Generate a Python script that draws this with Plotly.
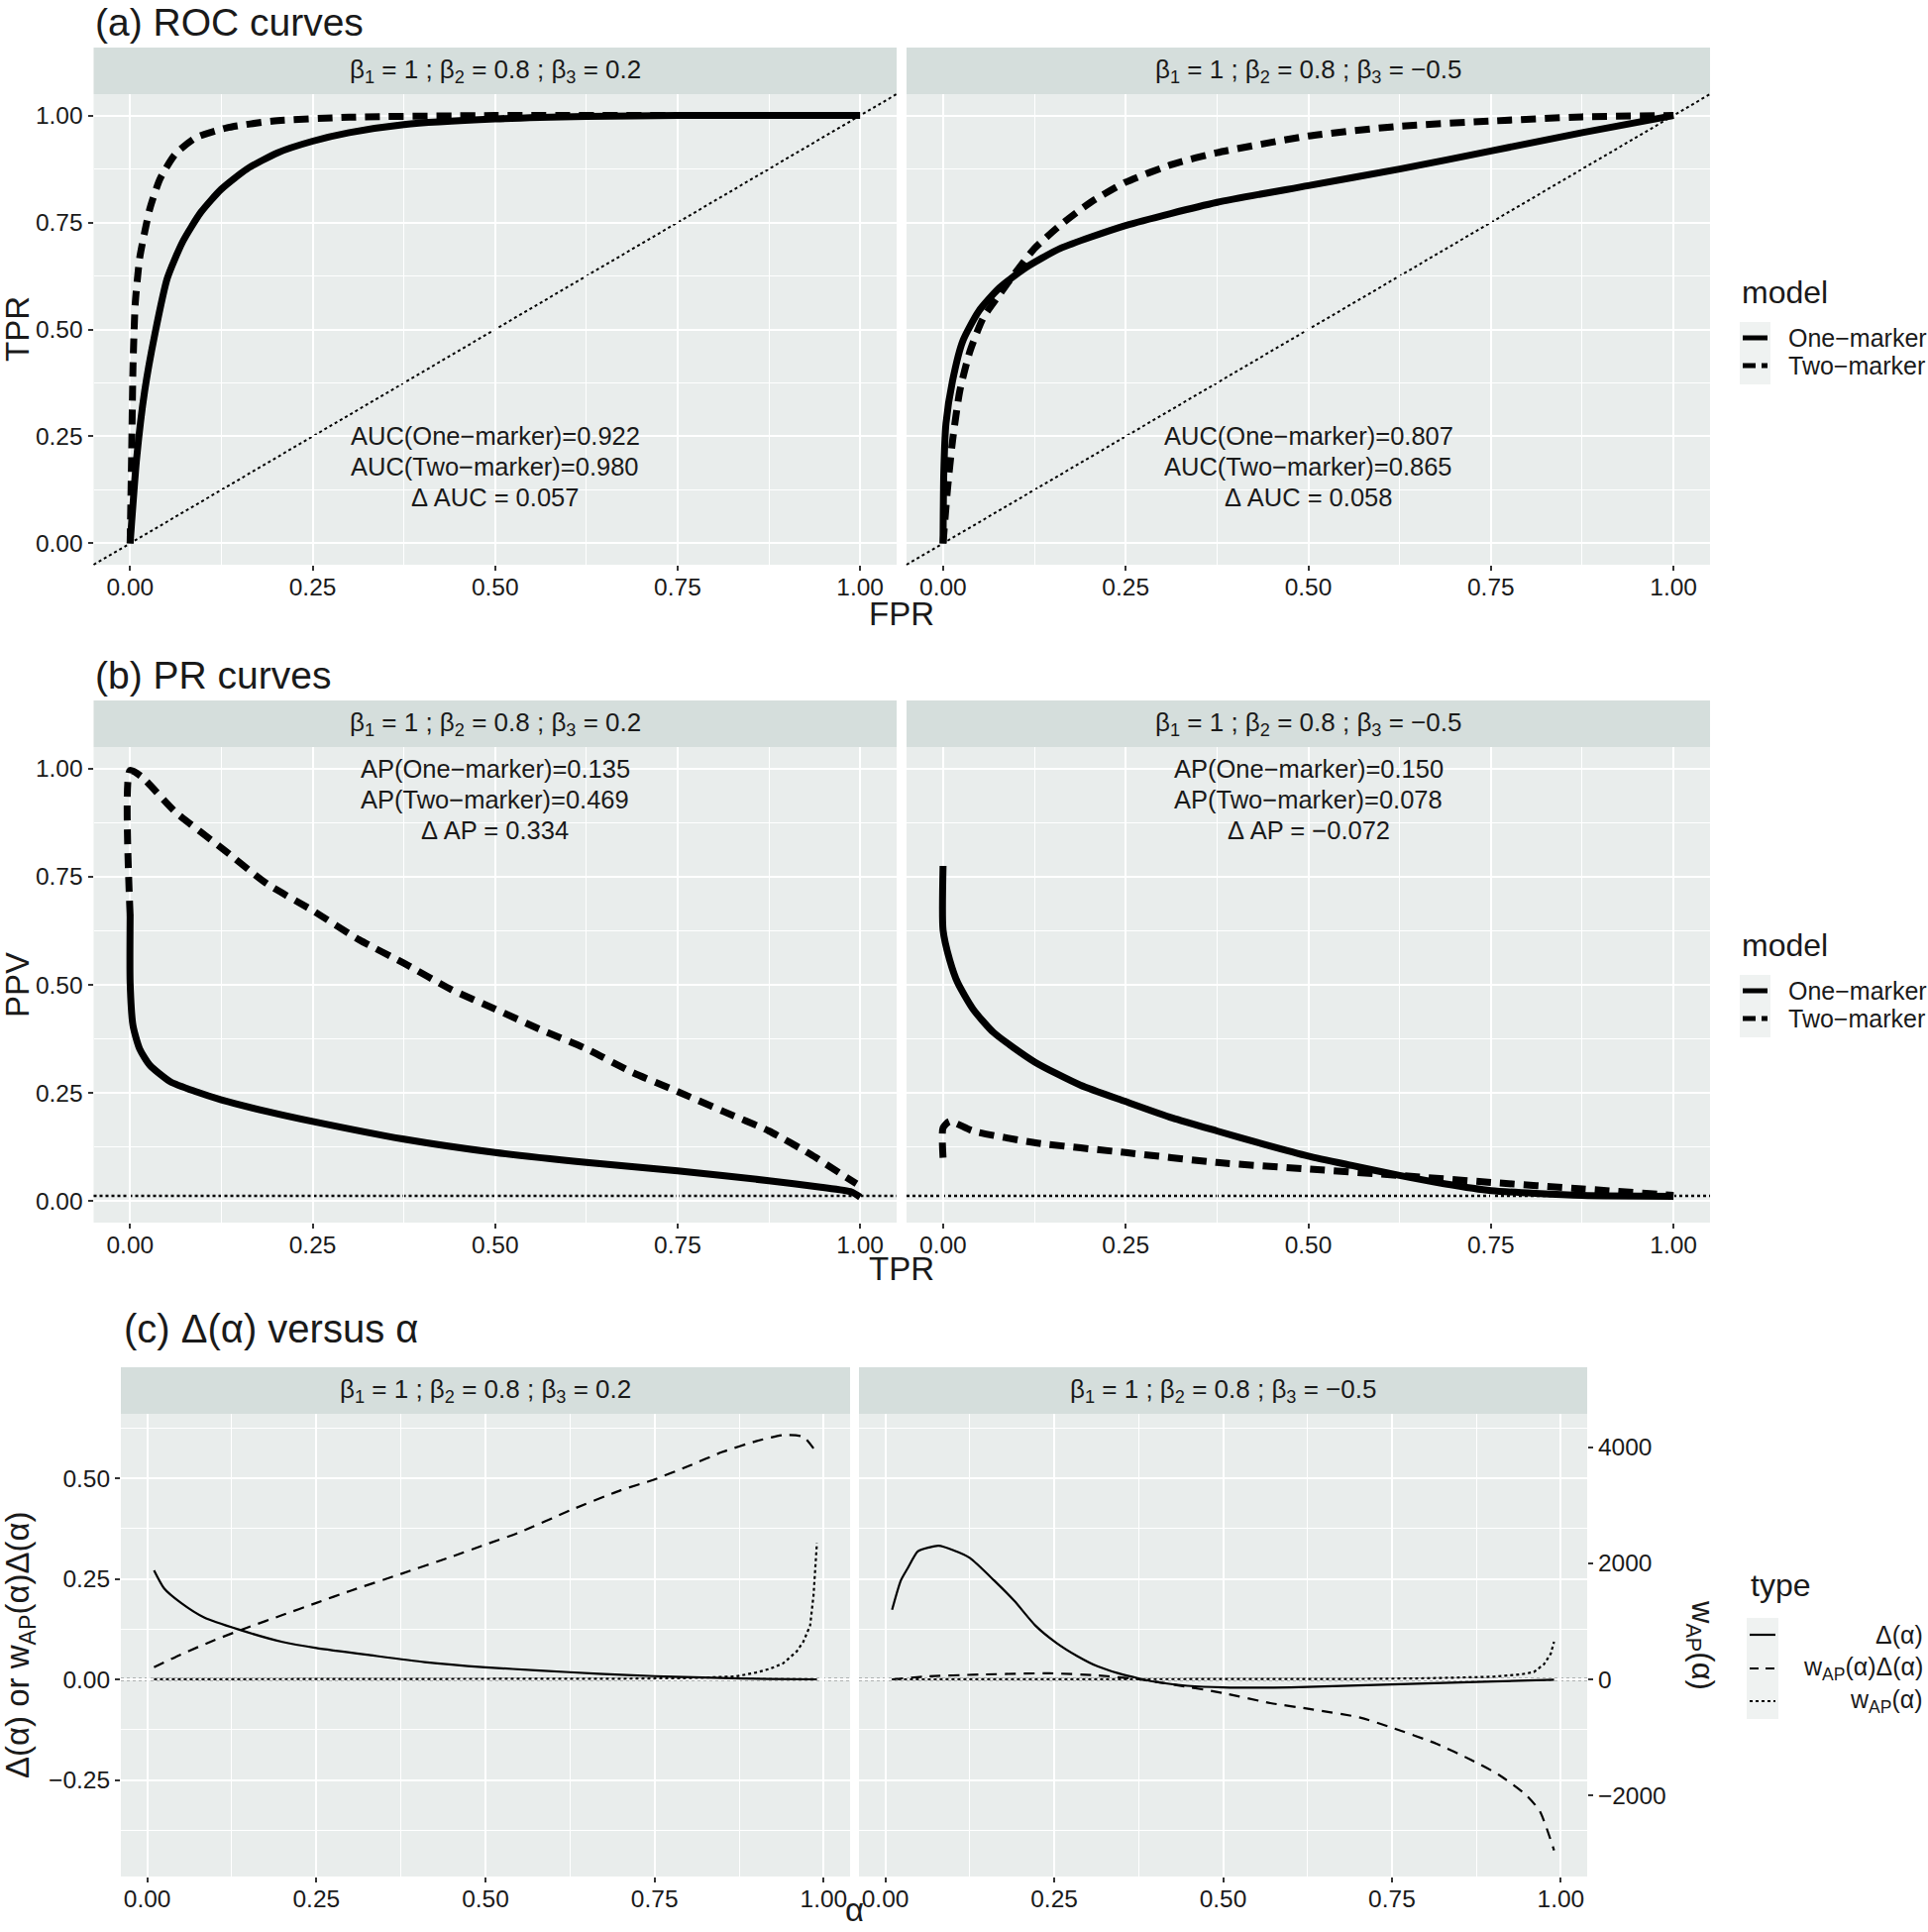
import plotly.graph_objects as go

# ---------------- data ----------------
# (a) ROC curves
roc1_one_fpr = [0, 0.009, 0.02, 0.034, 0.051, 0.072, 0.097, 0.125, 0.16, 0.202, 0.25, 0.30, 0.375, 0.5, 0.625, 0.75, 1.0]
roc1_one_tpr = [0, 0.20, 0.357, 0.49, 0.62, 0.705, 0.774, 0.828, 0.875, 0.913, 0.94, 0.96, 0.979, 0.992, 0.998, 1.0, 1.0]
roc1_two_fpr = [0, 0.002, 0.004, 0.007, 0.013, 0.02, 0.027, 0.041, 0.062, 0.09, 0.132, 0.195, 0.30, 0.5, 1.0]
roc1_two_tpr = [0, 0.2, 0.42, 0.56, 0.666, 0.728, 0.782, 0.852, 0.91, 0.948, 0.971, 0.987, 0.996, 1.0, 1.0]
roc2_one_fpr = [0, 0.001, 0.004, 0.013, 0.027, 0.049, 0.077, 0.112, 0.16, 0.25, 0.375, 0.5, 0.625, 0.75, 0.875, 1.0]
roc2_one_tpr = [0, 0.164, 0.28, 0.38, 0.473, 0.543, 0.597, 0.643, 0.689, 0.743, 0.797, 0.836, 0.875, 0.917, 0.96, 1.0]
roc2_two_fpr = [0, 0.006, 0.013, 0.023, 0.037, 0.055, 0.077, 0.097, 0.125, 0.16, 0.202, 0.25, 0.314, 0.375, 0.5, 0.625, 0.75, 0.875, 1.0]
roc2_two_tpr = [0, 0.125, 0.24, 0.357, 0.45, 0.527, 0.581, 0.628, 0.689, 0.743, 0.797, 0.844, 0.886, 0.913, 0.952, 0.975, 0.987, 0.997, 1.0]

# (b) PR curves
pr1_one_tpr = [0, 0, 0.004, 0.013, 0.027, 0.055, 0.09, 0.125, 0.188, 0.25, 0.375, 0.5, 0.625, 0.75, 0.875, 0.946, 0.988, 1.0]
pr1_one_ppv = [0.661, 0.505, 0.405, 0.352, 0.314, 0.276, 0.253, 0.234, 0.207, 0.184, 0.143, 0.112, 0.089, 0.07, 0.047, 0.032, 0.021, 0.009]
pr1_two_tpr = [0, 0, 0.016, 0.062, 0.125, 0.188, 0.25, 0.314, 0.375, 0.44, 0.5, 0.56, 0.625, 0.686, 0.75, 0.813, 0.875, 0.932, 0.974, 0.995]
pr1_two_ppv = [0.66, 0.996, 0.981, 0.90, 0.817, 0.733, 0.672, 0.604, 0.55, 0.489, 0.444, 0.398, 0.352, 0.299, 0.253, 0.207, 0.162, 0.108, 0.0625, 0.04]
pr2_one_tpr = [0, 0, 0.009, 0.02, 0.041, 0.069, 0.125, 0.188, 0.25, 0.314, 0.375, 0.44, 0.5, 0.56, 0.625, 0.686, 0.75, 0.875, 1.0]
pr2_one_ppv = [0.775, 0.627, 0.558, 0.505, 0.444, 0.39, 0.322, 0.268, 0.23, 0.192, 0.162, 0.131, 0.104, 0.082, 0.059, 0.04, 0.024, 0.013, 0.011]
pr2_two_tpr = [0, 0, 0.009, 0.041, 0.125, 0.25, 0.375, 0.5, 0.625, 0.75, 0.875, 1.0]
pr2_two_ppv = [0.10, 0.169, 0.184, 0.162, 0.135, 0.112, 0.089, 0.074, 0.059, 0.043, 0.028, 0.013]
PREVALENCE = 0.012

# (c) Delta(alpha) versus alpha
c1_delta_a = [0.01, 0.025, 0.05, 0.084, 0.135, 0.2, 0.25, 0.33, 0.41, 0.5, 0.58, 0.667, 0.75, 0.835, 0.92, 0.99]
c1_delta_v = [0.271, 0.226, 0.19, 0.154, 0.124, 0.093, 0.078, 0.06, 0.043, 0.030, 0.022, 0.014, 0.008, 0.004, 0.001, 0.0]
c1_wdelta_a = [0.01, 0.05, 0.1, 0.15, 0.2, 0.25, 0.3, 0.375, 0.45, 0.5, 0.55, 0.625, 0.7, 0.75, 0.8, 0.85, 0.9, 0.94, 0.97, 0.99]
c1_wdelta_v = [0.030, 0.062, 0.098, 0.13, 0.16, 0.19, 0.22, 0.262, 0.305, 0.335, 0.365, 0.42, 0.47, 0.497, 0.53, 0.565, 0.592, 0.607, 0.603, 0.562]
c1_w_a = [0.01, 0.2, 0.4, 0.6, 0.7, 0.8, 0.85, 0.87, 0.9, 0.92, 0.94, 0.96, 0.97, 0.98, 0.985, 0.99]
c1_w_v = [2, 3, 5, 8, 12, 22, 38, 50, 118, 180, 275, 480, 650, 930, 1450, 2350]
c2_delta_a = [0.01, 0.023, 0.033, 0.048, 0.065, 0.079, 0.099, 0.125, 0.161, 0.191, 0.222, 0.253, 0.284, 0.314, 0.345, 0.376, 0.406, 0.447, 0.5, 0.6, 0.7, 0.8, 0.9, 0.99]
c2_delta_v = [0.173, 0.246, 0.276, 0.318, 0.328, 0.332, 0.322, 0.302, 0.246, 0.195, 0.134, 0.091, 0.058, 0.0325, 0.015, 0.002, -0.008, -0.016, -0.020, -0.020, -0.015, -0.010, -0.005, -0.001]
c2_wdelta_a = [0.01, 0.058, 0.14, 0.243, 0.314, 0.376, 0.427, 0.5, 0.57, 0.63, 0.703, 0.75, 0.816, 0.867, 0.908, 0.949, 0.969, 0.99]
c2_wdelta_v = [0.0, 0.007, 0.012, 0.015, 0.010, 0.0, -0.013, -0.034, -0.059, -0.074, -0.095, -0.12, -0.16, -0.20, -0.237, -0.288, -0.328, -0.425]
c2_w_a = [0.01, 0.3, 0.5, 0.7, 0.8, 0.9, 0.94, 0.96, 0.975, 0.985, 0.99]
c2_w_v = [0, 1, 3, 8, 18, 45, 85, 125, 260, 440, 650]

strip_labels = ["β<sub>1</sub> = 1 ; β<sub>2</sub> = 0.8 ; β<sub>3</sub> = 0.2",
                "β<sub>1</sub> = 1 ; β<sub>2</sub> = 0.8 ; β<sub>3</sub> = −0.5"]
auc_text = [["AUC(One−marker)=0.922", "AUC(Two−marker)=0.980", "Δ AUC = 0.057"],
            ["AUC(One−marker)=0.807", "AUC(Two−marker)=0.865", "Δ AUC = 0.058"]]
ap_text = [["AP(One−marker)=0.135", "AP(Two−marker)=0.469", "Δ AP = 0.334"],
           ["AP(One−marker)=0.150", "AP(Two−marker)=0.078", "Δ AP = −0.072"]]
model_labels = ["One−marker", "Two−marker"]
type_labels = ["Δ(α)", "w<sub>AP</sub>(α)Δ(α)", "w<sub>AP</sub>(α)"]

# ---------------- style ----------------
W, H = 1946, 1950
FONT = "Liberation Sans, Arial, Helvetica, sans-serif"
INK = "#1A1A1A"
PANEL_BG = "#E9EDEC"
STRIP_BG = "#D5DEDC"
KEY_BG = "#EFF2F1"
SEC_SCALE = 6930.0
THICK = 7
THIN = 2.2
DASH_THICK = "15px,9px"
DASH_THIN = "11px,8px"
TICK_SIZE = 24.5


def fx(p):
    return p / W


def fy(p):
    return 1 - p / H


XL_AB = [fx(94.5), fx(905)]
XR_AB = [fx(915), fx(1726)]
Y_A = [fy(570), fy(95)]
Y_B = [fy(1234), fy(754)]
XL_C = [fx(122), fx(858)]
XR_C = [fx(867), fx(1602)]
Y_C = [fy(1894), fy(1427)]

R_AB = [-0.05, 1.05]
R_CX = [-0.039, 1.039]
R_CY = [-0.49, 0.66]
R_CY2 = [R_CY[0] * SEC_SCALE, R_CY[1] * SEC_SCALE]

tickfont = dict(family=FONT, size=TICK_SIZE, color=INK)


def axis(domain, anchor, rng, dtick=0.25, labels=True, grid=True, fmt=".2f", standoff=0):
    return dict(domain=domain, anchor=anchor, range=rng, showgrid=grid, gridcolor="white",
                gridwidth=2.2, tick0=0, dtick=dtick, tickformat=fmt,
                ticks="outside" if labels else "", ticklen=5, tickwidth=2, tickcolor="#333333",
                showticklabels=labels, ticklabelstandoff=standoff,
                minor=dict(tick0=dtick / 2, dtick=dtick, showgrid=grid, gridcolor="white", gridwidth=1.1, ticks=""),
                zeroline=False, showline=False, tickfont=tickfont, fixedrange=True)


fig = go.Figure()


def line(x, y, xa, ya, dash, width, shape="spline"):
    fig.add_trace(go.Scatter(x=x, y=y, xaxis=xa, yaxis=ya, mode="lines",
                             line=dict(color="black", width=width, dash=dash, shape=shape, smoothing=0.6),
                             showlegend=False, hoverinfo="skip"))


# (a)
line(roc1_one_fpr, roc1_one_tpr, "x", "y", "solid", THICK)
line(roc1_two_fpr, roc1_two_tpr, "x", "y", DASH_THICK, THICK)
line(roc2_one_fpr, roc2_one_tpr, "x2", "y2", "solid", THICK)
line(roc2_two_fpr, roc2_two_tpr, "x2", "y2", DASH_THICK, THICK)
# (b)
line(pr1_one_tpr, pr1_one_ppv, "x3", "y3", "solid", THICK)
line(pr1_two_tpr, pr1_two_ppv, "x3", "y3", DASH_THICK, THICK)
line(pr2_one_tpr, pr2_one_ppv, "x4", "y4", "solid", THICK)
line(pr2_two_tpr, pr2_two_ppv, "x4", "y4", DASH_THICK, THICK)
# (c)
line(c1_delta_a, c1_delta_v, "x5", "y5", "solid", THIN)
line(c1_wdelta_a, c1_wdelta_v, "x5", "y5", DASH_THIN, THIN)
line(c1_w_a, c1_w_v, "x5", "y8", "dot", THIN, "linear")
line(c2_delta_a, c2_delta_v, "x6", "y6", "solid", THIN)
line(c2_wdelta_a, c2_wdelta_v, "x6", "y6", DASH_THIN, THIN)
line(c2_w_a, c2_w_v, "x6", "y7", "dot", THIN, "linear")

layout = dict(
    width=W, height=H, margin=dict(l=0, r=0, t=0, b=0),
    paper_bgcolor="white", plot_bgcolor=PANEL_BG, showlegend=False,
    font=dict(family=FONT, color=INK),
    xaxis=axis(XL_AB, "y", R_AB, standoff=-4), yaxis=axis(Y_A, "x", R_AB),
    xaxis2=axis(XR_AB, "y2", R_AB, standoff=-4), yaxis2=axis(Y_A, "x2", R_AB, labels=False),
    xaxis3=axis(XL_AB, "y3", R_AB, standoff=-4), yaxis3=axis(Y_B, "x3", R_AB),
    xaxis4=axis(XR_AB, "y4", R_AB, standoff=-4), yaxis4=axis(Y_B, "x4", R_AB, labels=False),
    xaxis5=axis(XL_C, "y5", R_CX, standoff=-4), yaxis5=axis(Y_C, "x5", R_CY),
    xaxis6=axis(XR_C, "y6", R_CX, standoff=-4), yaxis6=axis(Y_C, "x6", R_CY, labels=False),
)
y7 = axis(Y_C, "x6", R_CY2, dtick=2000, grid=False, fmt="d")
y7.update(overlaying="y6", side="right")
layout["yaxis7"] = y7
y8 = axis(Y_C, "x5", R_CY2, dtick=2000, grid=False, fmt="d", labels=False)
y8.update(overlaying="y5", visible=False)
layout["yaxis8"] = y8
fig.update_layout(**layout)

shapes = []
annotations = []


def text(x, y, s, size, xanchor="center", yanchor="middle", xref="paper", yref="paper", angle=0):
    annotations.append(dict(x=x, y=y, xref=xref, yref=yref, text=s, showarrow=False,
                            xanchor=xanchor, yanchor=yanchor, textangle=angle,
                            font=dict(family=FONT, size=size, color=INK)))


# strips
strips = [(XL_AB, 48, 95), (XR_AB, 48, 95), (XL_AB, 707, 754), (XR_AB, 707, 754),
          (XL_C, 1380, 1427), (XR_C, 1380, 1427)]
for i, (dom, top, bot) in enumerate(strips):
    shapes.append(dict(type="rect", xref="paper", yref="paper", x0=dom[0], x1=dom[1], y0=fy(bot), y1=fy(top),
                       fillcolor=STRIP_BG, line=dict(width=0), layer="below"))
    text((dom[0] + dom[1]) / 2, fy((top + bot) / 2), strip_labels[i % 2], 26)

# reference lines
for xa, ya in [("x", "y"), ("x2", "y2")]:
    shapes.append(dict(type="line", xref=xa + " domain", yref=ya + " domain", x0=0, y0=0, x1=1, y1=1,
                       line=dict(color="black", width=2, dash="dot"), layer="below"))
for xa, ya in [("x3", "y3"), ("x4", "y4")]:
    shapes.append(dict(type="line", xref=xa + " domain", yref=ya, x0=0, x1=1, y0=PREVALENCE, y1=PREVALENCE,
                       line=dict(color="black", width=2.4, dash="dot"), layer="below"))
for xa, ya in [("x5", "y5"), ("x6", "y6")]:
    shapes.append(dict(type="line", xref=xa + " domain", yref=ya, x0=0, x1=1, y0=0, y1=0,
                       line=dict(color="black", width=2.6, dash="dot"), layer="below"))

# panel annotations
for i, xa, ya in [(0, "x", "y"), (1, "x2", "y2")]:
    for j, yv in enumerate([0.251, 0.179, 0.108]):
        text(0.5, yv, auc_text[i][j], 25.5, xref=xa, yref=ya)
for i, xa, ya in [(0, "x3", "y3"), (1, "x4", "y4")]:
    for j, yv in enumerate([1.0, 0.929, 0.858]):
        text(0.5, yv, ap_text[i][j], 25.5, xref=xa, yref=ya)

# titles
text(fx(94), fy(22), "(a) ROC curves", 39, xanchor="left")
text(fx(94), fy(681), "(b) PR curves", 39, xanchor="left")
text(fx(123), fy(1341), "(c) Δ(α) versus α", 40, xanchor="left")

# axis titles
text(fx(910), fy(619), "FPR", 33)
text(fx(17), fy(332), "TPR", 33, angle=-90)
text(fx(910), fy(1280), "TPR", 33)
text(fx(17), fy(994), "PPV", 33, angle=-90)
text(fx(862), fy(1948), "α", 33, yanchor="bottom")
text(fx(20), fy(1660), "Δ(α) or w<sub>AP</sub>(α)Δ(α)", 33, angle=-90)
text(fx(1716), fy(1660), "w<sub>AP</sub>(α)", 31, angle=90)

# legends (model)
for off in [0, 659]:
    text(fx(1756), fy(295 + off), "model", 32, xanchor="left")
    shapes.append(dict(type="rect", xref="paper", yref="paper", x0=fx(1756), x1=fx(1787),
                       y0=fy(388 + off), y1=fy(325 + off), fillcolor=KEY_BG, line=dict(width=0)))
    for k, (yy, dash) in enumerate([(341, "solid"), (369, "13px,6px")]):
        shapes.append(dict(type="line", xref="paper", yref="paper", x0=fx(1759), x1=fx(1784),
                           y0=fy(yy + off), y1=fy(yy + off), line=dict(color="black", width=5, dash=dash)))
        text(fx(1803), fy(yy + off), model_labels[k], 25, xanchor="left")

# legend (type)
text(fx(1765), fy(1600), "type", 32, xanchor="left")
shapes.append(dict(type="rect", xref="paper", yref="paper", x0=fx(1763), x1=fx(1795),
                   y0=fy(1735), y1=fy(1633), fillcolor=KEY_BG, line=dict(width=0)))
for k, (yy, dash) in enumerate([(1650, "solid"), (1684, "9px,7px"), (1717, "dot")]):
    shapes.append(dict(type="line", xref="paper", yref="paper", x0=fx(1766), x1=fx(1792),
                       y0=fy(yy), y1=fy(yy), line=dict(color="black", width=THIN, dash=dash)))
    text(fx(1943), fy(yy), type_labels[k], 25, xanchor="right")

fig.update_layout(shapes=shapes, annotations=annotations)
fig.write_html("out.html", config={"displayModeBar": False},
               post_script="document.body.style.margin='0px';")
